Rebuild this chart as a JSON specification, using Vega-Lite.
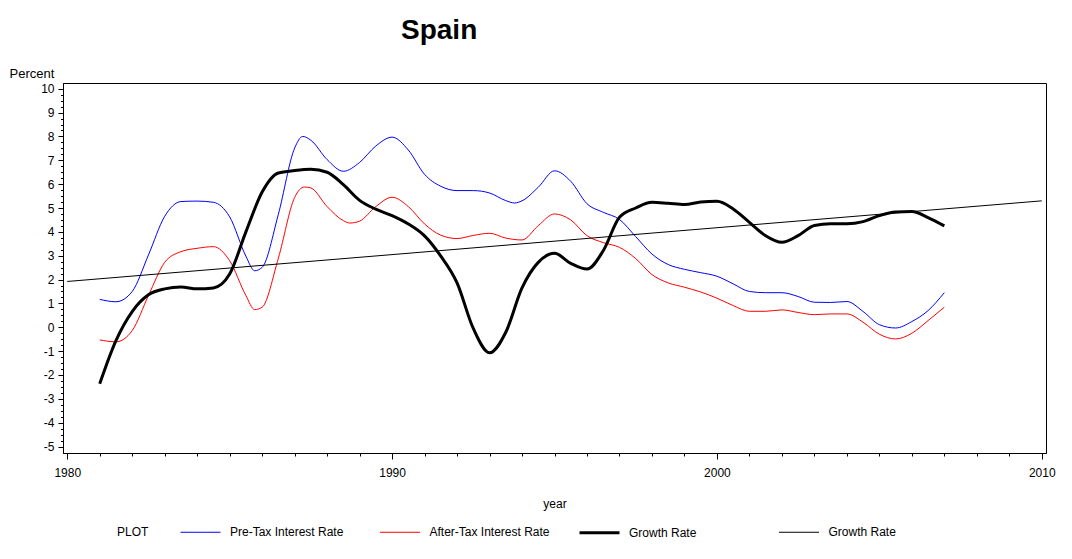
{
  "$schema": "https://vega.github.io/schema/vega-lite/v6.json",
  "autosize": {"type": "none"},
  "padding": {"left": 63, "top": 83, "right": 26, "bottom": 106},
  "width": 983,
  "height": 370,
  "background": "white",
  "title": {
    "text": "Spain",
    "font": "Liberation Sans",
    "fontSize": 28,
    "fontWeight": "bold",
    "color": "black",
    "anchor": "start",
    "frame": "group",
    "dx": 338,
    "baseline": "alphabetic",
    "offset": 0
  },
  "config": {
    "view": {"stroke": "black", "strokeWidth": 1},
    "axis": {
      "labelFont": "Liberation Sans",
      "labelFontSize": 12,
      "labelColor": "black",
      "titleFont": "Liberation Sans",
      "titleFontSize": 12,
      "titleFontWeight": "normal",
      "titleColor": "black",
      "tickColor": "black",
      "domainColor": "black",
      "grid": false
    },
    "legend": {
      "labelFont": "Liberation Sans",
      "labelFontSize": 12,
      "labelColor": "black",
      "titleFont": "Liberation Sans",
      "titleFontSize": 12,
      "titleFontWeight": "normal",
      "titleColor": "black"
    }
  },
  "data": {
    "values": [
      {"year": 1981, "series": "pre", "value": 1.17},
      {"year": 1981.5, "series": "pre", "value": 1.07},
      {"year": 1982, "series": "pre", "value": 1.5},
      {"year": 1982.5, "series": "pre", "value": 3.03},
      {"year": 1983, "series": "pre", "value": 4.65},
      {"year": 1983.5, "series": "pre", "value": 5.27},
      {"year": 1984, "series": "pre", "value": 5.29},
      {"year": 1984.5, "series": "pre", "value": 5.24},
      {"year": 1985, "series": "pre", "value": 4.63},
      {"year": 1985.5, "series": "pre", "value": 2.98},
      {"year": 1985.77, "series": "pre", "value": 2.37},
      {"year": 1986, "series": "pre", "value": 2.51},
      {"year": 1986.5, "series": "pre", "value": 4.74},
      {"year": 1987, "series": "pre", "value": 7.51},
      {"year": 1987.25, "series": "pre", "value": 8.0},
      {"year": 1987.5, "series": "pre", "value": 7.84},
      {"year": 1988, "series": "pre", "value": 7.03},
      {"year": 1988.5, "series": "pre", "value": 6.54},
      {"year": 1989, "series": "pre", "value": 6.91},
      {"year": 1989.5, "series": "pre", "value": 7.6},
      {"year": 1990, "series": "pre", "value": 7.97},
      {"year": 1990.5, "series": "pre", "value": 7.43},
      {"year": 1991, "series": "pre", "value": 6.41},
      {"year": 1991.5, "series": "pre", "value": 5.91},
      {"year": 1992, "series": "pre", "value": 5.73},
      {"year": 1992.5, "series": "pre", "value": 5.73},
      {"year": 1993, "series": "pre", "value": 5.63},
      {"year": 1993.5, "series": "pre", "value": 5.31},
      {"year": 1993.77, "series": "pre", "value": 5.21},
      {"year": 1994, "series": "pre", "value": 5.3},
      {"year": 1994.5, "series": "pre", "value": 5.87},
      {"year": 1995, "series": "pre", "value": 6.56},
      {"year": 1995.5, "series": "pre", "value": 6.12},
      {"year": 1996, "series": "pre", "value": 5.18},
      {"year": 1996.5, "series": "pre", "value": 4.82},
      {"year": 1997, "series": "pre", "value": 4.52},
      {"year": 1997.5, "series": "pre", "value": 3.8},
      {"year": 1998, "series": "pre", "value": 3.07},
      {"year": 1998.5, "series": "pre", "value": 2.63},
      {"year": 1999, "series": "pre", "value": 2.43},
      {"year": 1999.5, "series": "pre", "value": 2.29},
      {"year": 2000, "series": "pre", "value": 2.14},
      {"year": 2000.5, "series": "pre", "value": 1.82},
      {"year": 2001, "series": "pre", "value": 1.5},
      {"year": 2001.5, "series": "pre", "value": 1.45},
      {"year": 2002, "series": "pre", "value": 1.45},
      {"year": 2002.5, "series": "pre", "value": 1.29},
      {"year": 2003, "series": "pre", "value": 1.05},
      {"year": 2003.5, "series": "pre", "value": 1.04},
      {"year": 2004, "series": "pre", "value": 1.08},
      {"year": 2004.5, "series": "pre", "value": 0.66},
      {"year": 2005, "series": "pre", "value": 0.11},
      {"year": 2005.5, "series": "pre", "value": -0.03},
      {"year": 2006, "series": "pre", "value": 0.24},
      {"year": 2006.5, "series": "pre", "value": 0.7},
      {"year": 2007, "series": "pre", "value": 1.45},
      {"year": 1981, "series": "after", "value": -0.53},
      {"year": 1981.5, "series": "after", "value": -0.61},
      {"year": 1982, "series": "after", "value": -0.14},
      {"year": 1982.5, "series": "after", "value": 1.33},
      {"year": 1983, "series": "after", "value": 2.72},
      {"year": 1983.5, "series": "after", "value": 3.17},
      {"year": 1984, "series": "after", "value": 3.31},
      {"year": 1984.5, "series": "after", "value": 3.38},
      {"year": 1985, "series": "after", "value": 2.79},
      {"year": 1985.5, "series": "after", "value": 1.33},
      {"year": 1985.77, "series": "after", "value": 0.74},
      {"year": 1986, "series": "after", "value": 0.84},
      {"year": 1986.5, "series": "after", "value": 2.9},
      {"year": 1987, "series": "after", "value": 5.44},
      {"year": 1987.3, "series": "after", "value": 5.88},
      {"year": 1987.5, "series": "after", "value": 5.84},
      {"year": 1988, "series": "after", "value": 5.06},
      {"year": 1988.5, "series": "after", "value": 4.47},
      {"year": 1988.7, "series": "after", "value": 4.37},
      {"year": 1989, "series": "after", "value": 4.45},
      {"year": 1989.5, "series": "after", "value": 5.06},
      {"year": 1990, "series": "after", "value": 5.45},
      {"year": 1990.5, "series": "after", "value": 5.06},
      {"year": 1991, "series": "after", "value": 4.33},
      {"year": 1991.5, "series": "after", "value": 3.86},
      {"year": 1992, "series": "after", "value": 3.72},
      {"year": 1992.5, "series": "after", "value": 3.85},
      {"year": 1993, "series": "after", "value": 3.94},
      {"year": 1993.5, "series": "after", "value": 3.74},
      {"year": 1994, "series": "after", "value": 3.66},
      {"year": 1994.5, "series": "after", "value": 4.26},
      {"year": 1995, "series": "after", "value": 4.75},
      {"year": 1995.5, "series": "after", "value": 4.5},
      {"year": 1996, "series": "after", "value": 3.84},
      {"year": 1996.5, "series": "after", "value": 3.55},
      {"year": 1997, "series": "after", "value": 3.35},
      {"year": 1997.5, "series": "after", "value": 2.88},
      {"year": 1998, "series": "after", "value": 2.21},
      {"year": 1998.5, "series": "after", "value": 1.86},
      {"year": 1999, "series": "after", "value": 1.68},
      {"year": 1999.5, "series": "after", "value": 1.48},
      {"year": 2000, "series": "after", "value": 1.22},
      {"year": 2000.5, "series": "after", "value": 0.91},
      {"year": 2001, "series": "after", "value": 0.67},
      {"year": 2001.5, "series": "after", "value": 0.67},
      {"year": 2002, "series": "after", "value": 0.73},
      {"year": 2002.5, "series": "after", "value": 0.62},
      {"year": 2003, "series": "after", "value": 0.53},
      {"year": 2003.5, "series": "after", "value": 0.56},
      {"year": 2004, "series": "after", "value": 0.56},
      {"year": 2004.5, "series": "after", "value": 0.21},
      {"year": 2005, "series": "after", "value": -0.29},
      {"year": 2005.5, "series": "after", "value": -0.49},
      {"year": 2006, "series": "after", "value": -0.25},
      {"year": 2006.5, "series": "after", "value": 0.28},
      {"year": 2007, "series": "after", "value": 0.84},
      {"year": 1981, "series": "growth", "value": -2.37},
      {"year": 1981.5, "series": "growth", "value": -0.56},
      {"year": 1982, "series": "growth", "value": 0.66},
      {"year": 1982.5, "series": "growth", "value": 1.36},
      {"year": 1983, "series": "growth", "value": 1.61},
      {"year": 1983.5, "series": "growth", "value": 1.69},
      {"year": 1984, "series": "growth", "value": 1.61},
      {"year": 1984.5, "series": "growth", "value": 1.65},
      {"year": 1985, "series": "growth", "value": 2.23},
      {"year": 1985.5, "series": "growth", "value": 4.0},
      {"year": 1986, "series": "growth", "value": 5.67},
      {"year": 1986.5, "series": "growth", "value": 6.47},
      {"year": 1987, "series": "growth", "value": 6.57},
      {"year": 1987.5, "series": "growth", "value": 6.62},
      {"year": 1988, "series": "growth", "value": 6.5},
      {"year": 1988.5, "series": "growth", "value": 5.98},
      {"year": 1989, "series": "growth", "value": 5.32},
      {"year": 1989.5, "series": "growth", "value": 4.95},
      {"year": 1990, "series": "growth", "value": 4.68},
      {"year": 1990.5, "series": "growth", "value": 4.33},
      {"year": 1991, "series": "growth", "value": 3.83},
      {"year": 1991.5, "series": "growth", "value": 2.98},
      {"year": 1992, "series": "growth", "value": 1.86},
      {"year": 1992.5, "series": "growth", "value": -0.05},
      {"year": 1993, "series": "growth", "value": -1.07},
      {"year": 1993.5, "series": "growth", "value": -0.21},
      {"year": 1994, "series": "growth", "value": 1.65},
      {"year": 1994.5, "series": "growth", "value": 2.72},
      {"year": 1995, "series": "growth", "value": 3.1},
      {"year": 1995.5, "series": "growth", "value": 2.68},
      {"year": 1996, "series": "growth", "value": 2.44},
      {"year": 1996.5, "series": "growth", "value": 3.21},
      {"year": 1997, "series": "growth", "value": 4.61},
      {"year": 1997.5, "series": "growth", "value": 5.0},
      {"year": 1998, "series": "growth", "value": 5.24},
      {"year": 1998.5, "series": "growth", "value": 5.2},
      {"year": 1999, "series": "growth", "value": 5.15},
      {"year": 1999.5, "series": "growth", "value": 5.25},
      {"year": 2000, "series": "growth", "value": 5.28},
      {"year": 2000.5, "series": "growth", "value": 4.96},
      {"year": 2001, "series": "growth", "value": 4.4},
      {"year": 2001.5, "series": "growth", "value": 3.84},
      {"year": 2002, "series": "growth", "value": 3.56},
      {"year": 2002.5, "series": "growth", "value": 3.84},
      {"year": 2003, "series": "growth", "value": 4.27},
      {"year": 2003.5, "series": "growth", "value": 4.34},
      {"year": 2004, "series": "growth", "value": 4.34},
      {"year": 2004.5, "series": "growth", "value": 4.43},
      {"year": 2005, "series": "growth", "value": 4.68},
      {"year": 2005.5, "series": "growth", "value": 4.83},
      {"year": 2006, "series": "growth", "value": 4.85},
      {"year": 2006.5, "series": "growth", "value": 4.6},
      {"year": 2007, "series": "growth", "value": 4.25},
      {"year": 1980, "series": "trend", "value": 1.92},
      {"year": 2010, "series": "trend", "value": 5.3}
    ]
  },
  "mark": {"type": "line", "interpolate": "monotone", "strokeCap": "butt"},
  "encoding": {
    "x": {
      "field": "year",
      "type": "quantitative",
      "scale": {"domain": [1979.87, 2010.13], "nice": false, "zero": false},
      "axis": {
        "values": [1980, 1981, 1982, 1983, 1984, 1985, 1986, 1987, 1988, 1989, 1990, 1991, 1992, 1993, 1994, 1995, 1996, 1997, 1998, 1999, 2000, 2001, 2002, 2003, 2004, 2005, 2006, 2007, 2008, 2009, 2010],
        "labelExpr": "datum.value % 10 === 0 ? datum.value + '' : ''",
        "tickSize": {"condition": {"test": "datum.value % 10 === 0", "value": 6}, "value": 3},
        "labelPadding": 8,
        "labelOverlap": false,
        "labelFlush": false,
        "title": "year",
        "titleY": 50,
        "titleBaseline": "middle"
      }
    },
    "y": {
      "field": "value",
      "type": "quantitative",
      "scale": {"domain": [-5.27, 10.24], "nice": false, "zero": false},
      "axis": {
        "values": [-5, -4.75, -4.5, -4.25, -4, -3.75, -3.5, -3.25, -3, -2.75, -2.5, -2.25, -2, -1.75, -1.5, -1.25, -1, -0.75, -0.5, -0.25, 0, 0.25, 0.5, 0.75, 1, 1.25, 1.5, 1.75, 2, 2.25, 2.5, 2.75, 3, 3.25, 3.5, 3.75, 4, 4.25, 4.5, 4.75, 5, 5.25, 5.5, 5.75, 6, 6.25, 6.5, 6.75, 7, 7.25, 7.5, 7.75, 8, 8.25, 8.5, 8.75, 9, 9.25, 9.5, 9.75, 10],
        "labelExpr": "datum.value % 1 === 0 ? datum.value + '' : ''",
        "tickSize": {"condition": {"test": "datum.value % 1 === 0", "value": 5}, "value": 2.5},
        "labelPadding": 4,
        "labelOverlap": false,
        "labelFlush": false,
        "title": "Percent",
        "titleAngle": 0,
        "titleAlign": "left",
        "titleBaseline": "middle",
        "titleX": -54,
        "titleY": -10,
        "titleFontSize": 13
      }
    },
    "color": {
      "field": "series",
      "type": "nominal",
      "title": "PLOT",
      "scale": {"domain": ["pre", "after", "growth", "trend"], "range": ["#0000ff", "#ff0000", "#000000", "#000000"]},
      "legend": {
        "orient": "none",
        "legendX": 54,
        "legendY": 428,
        "direction": "horizontal",
        "columns": 4,
        "gridAlign": "all",
        "columnPadding": 22.5,
        "symbolType": "stroke",
        "symbolSize": 1600,
        "labelOffset": 8,
        "titleOrient": "left",
        "titleAnchor": "end",
        "titleBaseline": "bottom",
        "titlePadding": 30,
        "labelExpr": "datum.label === 'pre' ? 'Pre-Tax Interest Rate' : datum.label === 'after' ? 'After-Tax Interest Rate' : 'Growth Rate'"
      }
    },
    "strokeWidth": {
      "field": "series",
      "type": "nominal",
      "title": "PLOT",
      "scale": {"type": "ordinal", "domain": ["pre", "after", "growth", "trend"], "range": [1, 1, 3, 1]}
    }
  }
}
